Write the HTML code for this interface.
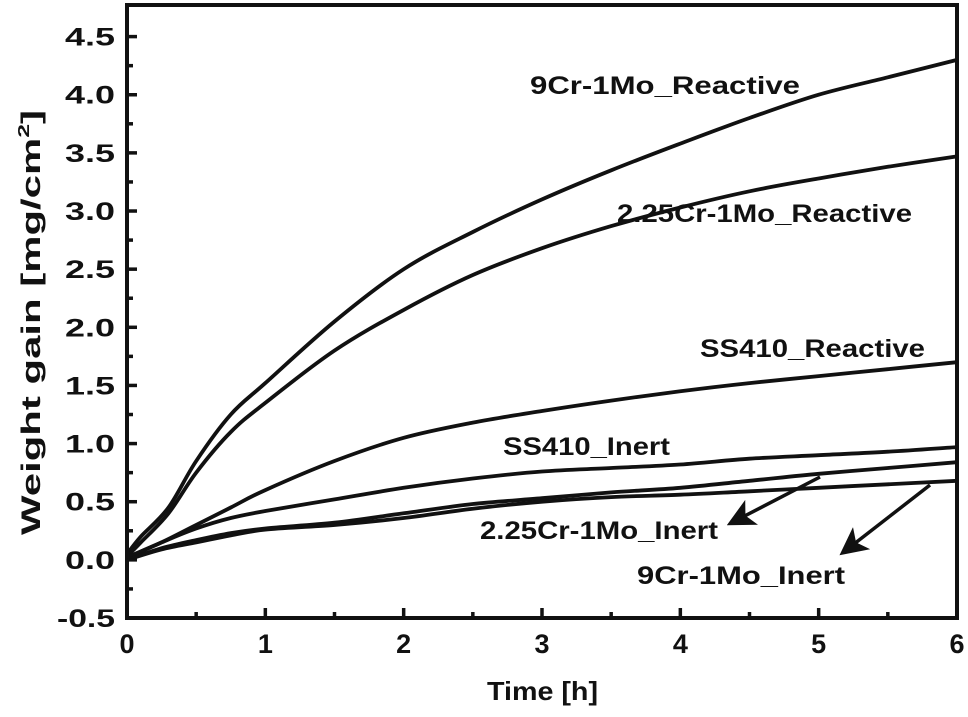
<!DOCTYPE html>
<html><head><meta charset="utf-8"><style>
body{margin:0;background:#fff;}
svg text{font-family:"Liberation Sans",Arial,sans-serif;font-weight:bold;fill:#111;}
</style></head><body>
<svg id="chart" width="968" height="712" viewBox="0 0 968 712" xmlns="http://www.w3.org/2000/svg">
<g id="series"></g>
<g id="axes"></g>
<text x="487" y="700" font-size="26" textLength="111" lengthAdjust="spacingAndGlyphs">Time [h]</text>
<text transform="translate(40,535) rotate(-90)" font-size="27" textLength="425" lengthAdjust="spacingAndGlyphs">Weight gain [mg/cm<tspan dy="-11" font-size="16">2</tspan><tspan dy="11">]</tspan></text>
<text x="530" y="94" font-size="25" textLength="270" lengthAdjust="spacingAndGlyphs">9Cr-1Mo_Reactive</text>
<text x="617" y="222" font-size="25" textLength="295" lengthAdjust="spacingAndGlyphs">2.25Cr-1Mo_Reactive</text>
<text x="700" y="357" font-size="25" textLength="225" lengthAdjust="spacingAndGlyphs">SS410_Reactive</text>
<text x="503" y="455" font-size="25" textLength="167" lengthAdjust="spacingAndGlyphs">SS410_Inert</text>
<text x="480" y="539" font-size="25" textLength="238" lengthAdjust="spacingAndGlyphs">2.25Cr-1Mo_Inert</text>
<text x="637" y="584" font-size="25" textLength="208" lengthAdjust="spacingAndGlyphs">9Cr-1Mo_Inert</text>
<defs><marker id="ah" markerWidth="8" markerHeight="8" refX="6" refY="4" orient="auto" markerUnits="strokeWidth"><path d="M0,0 L8,4 L0,8 L2,4 z" fill="#111"/></marker></defs>
<line x1="820" y1="477" x2="733" y2="522" stroke="#111" stroke-width="3.5" marker-end="url(#ah)"/>
<line x1="930" y1="485" x2="845" y2="551" stroke="#111" stroke-width="3.5" marker-end="url(#ah)"/>
</svg>
<script>
const xTicks=[0,1,2,3,4,5,6];
const yTicks=[-0.5,0,0.5,1,1.5,2,2.5,3,3.5,4,4.5];
const tReactive9=[0,0.1,0.3,0.5,0.75,1,1.5,2,2.5,3,3.5,4,4.5,5,5.5,6];
const vReactive9=[0.05,0.2,0.45,0.85,1.25,1.52,2.05,2.5,2.82,3.1,3.35,3.58,3.8,4.0,4.15,4.3];
const tReactive225=[0,0.1,0.3,0.5,0.75,1,1.5,2,2.5,3,3.5,4,4.5,5,5.5,6];
const vReactive225=[0.03,0.15,0.4,0.75,1.1,1.35,1.8,2.15,2.45,2.68,2.87,3.03,3.17,3.28,3.38,3.47];
const tStd=[0,0.25,0.5,0.75,1,1.5,2,2.5,3,3.5,4,4.5,5,5.5,6];
const vReactive410=[0.02,0.15,0.3,0.45,0.6,0.85,1.05,1.18,1.28,1.37,1.45,1.52,1.58,1.64,1.7];
const vInert410=[0.02,0.15,0.27,0.36,0.42,0.52,0.62,0.7,0.76,0.79,0.82,0.87,0.9,0.93,0.97];
const vInert225=[0,0.1,0.17,0.23,0.27,0.32,0.4,0.48,0.53,0.58,0.62,0.68,0.74,0.79,0.84];
const vInert9=[0,0.09,0.15,0.21,0.26,0.3,0.36,0.44,0.5,0.54,0.56,0.59,0.62,0.65,0.68];
const X0=127,X1=957,Y0=618,Y1=36.6;
const xS=v=>X0+(v-0)/6*(X1-X0);
const yS=v=>Y0+(v+0.5)/5*(Y1-Y0);
const NS="http://www.w3.org/2000/svg";
const sg=document.getElementById('series'),ag=document.getElementById('axes');
function mk(tag,attrs,parent){const e=document.createElementNS(NS,tag);for(const k in attrs)e.setAttribute(k,attrs[k]);parent.appendChild(e);return e;}
function line(ts,vs,name){
 const P=ts.map((t,i)=>[xS(t),yS(vs[i])]);
 let d='M'+P[0][0].toFixed(1)+','+P[0][1].toFixed(1);
 for(let i=0;i<P.length-1;i++){
  const p0=P[Math.max(i-1,0)],p1=P[i],p2=P[i+1],p3=P[Math.min(i+2,P.length-1)];
  const c1=[p1[0]+(p2[0]-p0[0])/6,p1[1]+(p2[1]-p0[1])/6];
  const c2=[p2[0]-(p3[0]-p1[0])/6,p2[1]-(p3[1]-p1[1])/6];
  d+=' C'+c1.map(n=>n.toFixed(1)).join(',')+' '+c2.map(n=>n.toFixed(1)).join(',')+' '+p2.map(n=>n.toFixed(1)).join(',');
 }
 const p=mk('path',{d:d,fill:'none',stroke:'#111','stroke-width':3.8,'stroke-linejoin':'round'},sg);
 
 
}
line(tReactive9,vReactive9,'line-9cr-reactive');
line(tReactive225,vReactive225,'line-225cr-reactive');
line(tStd,vReactive410,'line-ss410-reactive');
line(tStd,vInert410,'line-ss410-inert');
line(tStd,vInert225,'line-225cr-inert');
line(tStd,vInert9,'line-9cr-inert');
const frame=mk('rect',{x:X0,y:5,width:X1-X0,height:Y0-5,fill:'none',stroke:'#111','stroke-width':4},ag);


xTicks.forEach(v=>{
 const t=mk('line',{x1:xS(v),x2:xS(v),y1:Y0,y2:Y0-10,stroke:'#111','stroke-width':3.5},ag);
 
 
 if(v<6){const m=mk('line',{x1:xS(v+0.5),x2:xS(v+0.5),y1:Y0,y2:Y0-6,stroke:'#111','stroke-width':3.5},ag);
 
 }
 const l=mk('text',{x:xS(v),y:Y0+35,'font-size':27,'text-anchor':'middle'},ag);l.textContent=v;
 
 
});
yTicks.forEach(v=>{
 const t=mk('line',{x1:X0,x2:X0+10,y1:yS(v),y2:yS(v),stroke:'#111','stroke-width':3.5},ag);
 
 
 if(v<4.5){const m=mk('line',{x1:X0,x2:X0+6,y1:yS(v+0.25),y2:yS(v+0.25),stroke:'#111','stroke-width':3.5},ag);
 
 }
 const lab=v.toFixed(1);
 const l=mk('text',{x:X0-12,y:yS(v)+9,'font-size':25,'text-anchor':'end',textLength:lab.length>3?58:50,lengthAdjust:'spacingAndGlyphs'},ag);l.textContent=lab;
 
 
});
</script>
</body></html>
